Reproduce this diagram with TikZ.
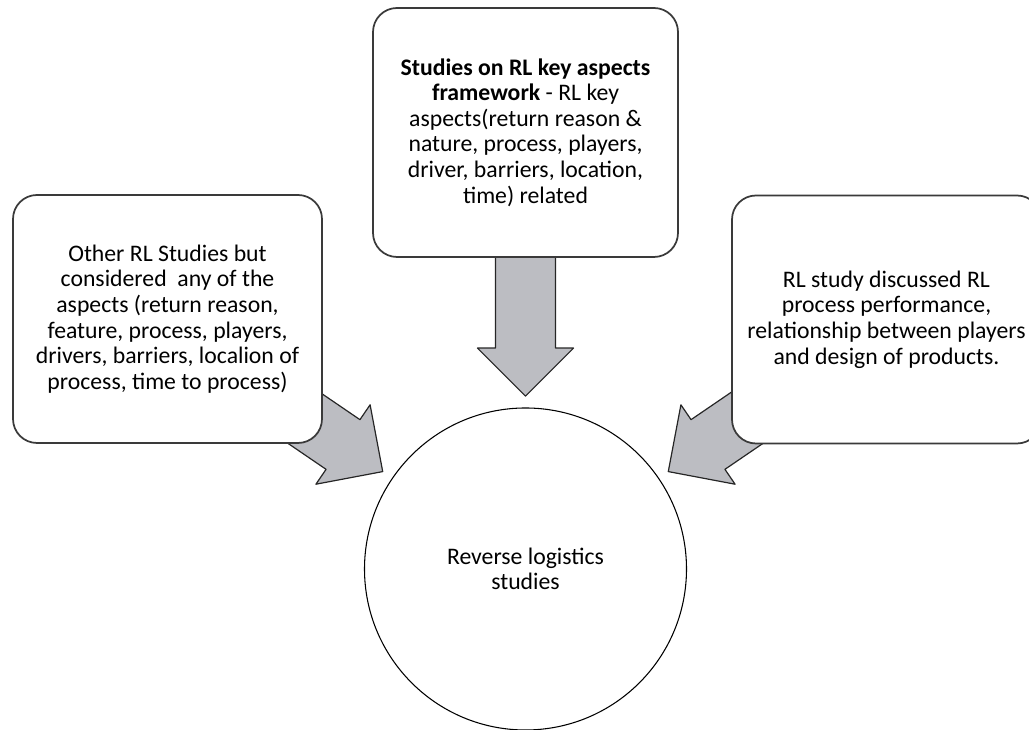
\documentclass[tikz,border=0pt]{standalone}
\usepackage{fontspec}
\setmainfont{Carlito}
\usetikzlibrary{shapes.arrows,calc}

\begin{document}
\begin{tikzpicture}[x=0.75pt,y=0.75pt,line cap=round,line join=round,
  studybox/.style={draw={rgb,255:red,58;green,58;blue,58},line width=1.3pt,fill=white,rounded corners=18pt,minimum width=231.75pt,minimum height=186pt,align=center,inner sep=0pt,font=\fontsize{17.8}{19.2}\selectfont},
  bigarrow/.style={single arrow,draw=black!85,line width=0.9pt,fill={rgb,255:red,188;green,189;blue,194},minimum height=112.5pt,inner xsep=0pt,inner ysep=22.1pt,single arrow head extend=13.5pt,single arrow head indent=0pt,anchor=tip}]
\path[use as bounding box,clip] (0,0) rectangle (1029,730);
% centre circle
\node[draw,circle,line width=0.8pt,minimum size=241.5pt,inner sep=0pt,align=center,font=\fontsize{17.8}{19.2}\selectfont] (study) at (525.5,161) {Reverse logistics\\studies};
% arrow tips
\coordinate (tipL) at ($(study.center)+(145.7:172)$);
\coordinate (tipT) at ($(study.center)+(90:172)$);
\coordinate (tipR) at ($(study.center)+(34.3:172)$);
\node[bigarrow,rotate=-34.3] (arrL) at (tipL) {};
\node[bigarrow,rotate=-90] (arrT) at (tipT) {};
\node[bigarrow,rotate=214.3] (arrR) at (tipR) {};
% boxes
\node[studybox] (other) at (167.5,411) {Other RL Studies but\\considered\ \ any of the\\aspects (return reason,\\feature, process, players,\\drivers, barriers, localion of\\process, time to process)};
\node[studybox,minimum width=228.75pt,minimum height=186.75pt] (keyasp) at (525.5,597.5) {\textbf{Studies on RL key aspects}\\\textbf{framework} - RL key\\aspects(return reason \&\\nature, process, players,\\driver, barriers, location,\\time) related};
\node[studybox] (perf) at (886.5,410.5) {RL study discussed RL\\process performance,\\relationship between players\\and design of products.};
\end{tikzpicture}
\end{document}
